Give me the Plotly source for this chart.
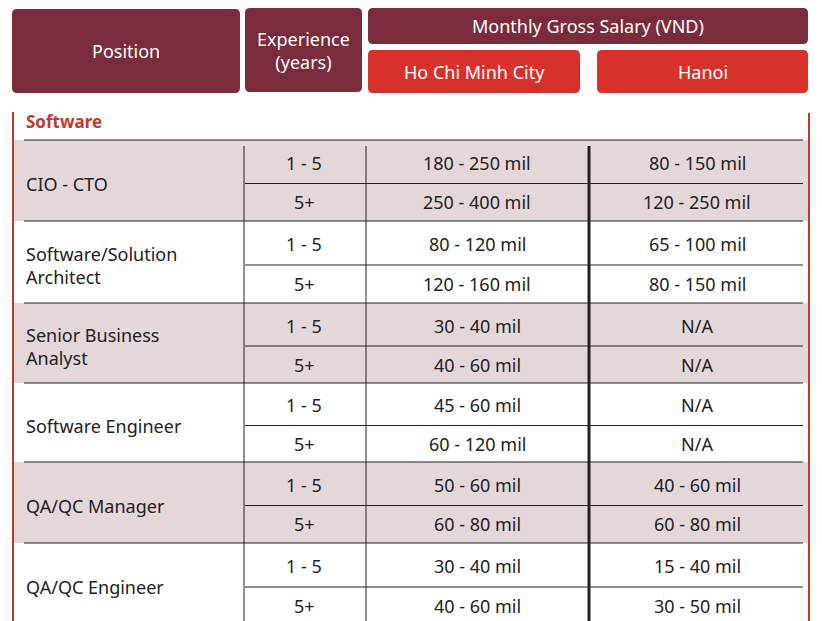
import plotly.graph_objects as go

# table data
positions = ["CIO - CTO", "Software/Solution<br>Architect", "Senior Business<br>Analyst",
             "Software Engineer", "QA/QC Manager", "QA/QC Engineer"]
experience = ["1 - 5", "5+"]
hcmc = [["180 - 250 mil", "250 - 400 mil"], ["80 - 120 mil", "120 - 160 mil"],
        ["30 - 40 mil", "40 - 60 mil"], ["45 - 60 mil", "60 - 120 mil"],
        ["50 - 60 mil", "60 - 80 mil"], ["30 - 40 mil", "40 - 60 mil"]]
hanoi = [["80 - 150 mil", "120 - 250 mil"], ["65 - 100 mil", "80 - 150 mil"],
         ["N/A", "N/A"], ["N/A", "N/A"],
         ["40 - 60 mil", "60 - 80 mil"], ["15 - 40 mil", "30 - 50 mil"]]

MAROON = "#7a2b3c"
RED = "#d8302a"
SHADE = "#e4d7da"
FONT = "Noto Sans"

group_top = [140, 221, 303, 383, 462, 543]
group_bot = [221, 303, 383, 462, 543, 625]

fig = go.Figure()
shapes = []
ann = []


def rounded(x0, y0, x1, y1, r=5):
    return (f"M{x0+r},{y0} L{x1-r},{y0} Q{x1},{y0} {x1},{y0+r} L{x1},{y1-r} "
            f"Q{x1},{y1} {x1-r},{y1} L{x0+r},{y1} Q{x0},{y1} {x0},{y1-r} "
            f"L{x0},{y0+r} Q{x0},{y0} {x0+r},{y0} Z")


def box(x0, y0, x1, y1, color, text, size=18):
    shapes.append(dict(type="path", path=rounded(x0, y0, x1, y1), fillcolor=color,
                       line=dict(width=0), layer="below"))
    ann.append(dict(x=(x0 + x1) / 2, y=(y0 + y1) / 2, text=text, showarrow=False,
                    font=dict(family=FONT, size=size, color="white")))


box(12, 9, 240, 93, MAROON, "Position")
box(245, 8, 362, 92, MAROON, "Experience<br>(years)")
box(368, 8, 808, 44, MAROON, "Monthly Gross Salary (VND)")
box(368, 50, 580, 93, RED, "Ho Chi Minh City")
box(597, 50, 808, 93, RED, "Hanoi")

# side red lines and section label
shapes.append(dict(type="line", x0=13, x1=13, y0=112, y1=625, line=dict(color="#c0392b", width=2)))
shapes.append(dict(type="line", x0=809, x1=809, y0=113, y1=625, line=dict(color="#c0392b", width=2)))
ann.append(dict(x=24, y=121, text="<b>Software</b>", showarrow=False, xanchor="left",
                font=dict(family=FONT, size=17, color="#c0392b")))

for i, pos in enumerate(positions):
    top, bot = group_top[i], group_bot[i]
    if i % 2 == 0:
        shapes.append(dict(type="rect", x0=14, x1=808, y0=top, y1=bot, fillcolor=SHADE,
                           line=dict(width=0), layer="below"))
    shapes.append(dict(type="line", x0=24, x1=803, y0=top, y1=top, line=dict(color="#222", width=1)))
    mid = (top + 6 + bot) / 2
    shapes.append(dict(type="line", x0=245, x1=803, y0=mid, y1=mid, line=dict(color="#222", width=1)))
    ann.append(dict(x=24, y=mid, text=pos, showarrow=False, xanchor="left", align="left",
                    font=dict(family=FONT, size=18, color="#222")))
    for j in range(2):
        yc = (top + mid) / 2 + 1 if j == 0 else (mid + bot) / 2
        ann.append(dict(x=304, y=yc, text=experience[j], showarrow=False,
                        font=dict(family=FONT, size=18, color="#222")))
        ann.append(dict(x=477, y=yc, text=hcmc[i][j], showarrow=False,
                        font=dict(family=FONT, size=18, color="#222")))
        ann.append(dict(x=697, y=yc, text=hanoi[i][j], showarrow=False,
                        font=dict(family=FONT, size=18, color="#222")))

shapes.append(dict(type="line", x0=244, x1=244, y0=146, y1=625, line=dict(color="#222", width=1)))
shapes.append(dict(type="line", x0=366, x1=366, y0=146, y1=625, line=dict(color="#222", width=1)))
shapes.append(dict(type="line", x0=589, x1=589, y0=146, y1=625, line=dict(color="#222", width=3)))

fig.update_layout(
    width=822, height=621, margin=dict(l=0, r=0, t=0, b=0),
    paper_bgcolor="white", plot_bgcolor="white",
    xaxis=dict(range=[0, 822], visible=False, fixedrange=True),
    yaxis=dict(range=[621, 0], visible=False, fixedrange=True),
    shapes=shapes, annotations=ann, showlegend=False,
)
fig.write_html("out.html", config={"displayModeBar": False},
               post_script="document.body.style.margin='0';document.body.style.overflow='hidden';")
